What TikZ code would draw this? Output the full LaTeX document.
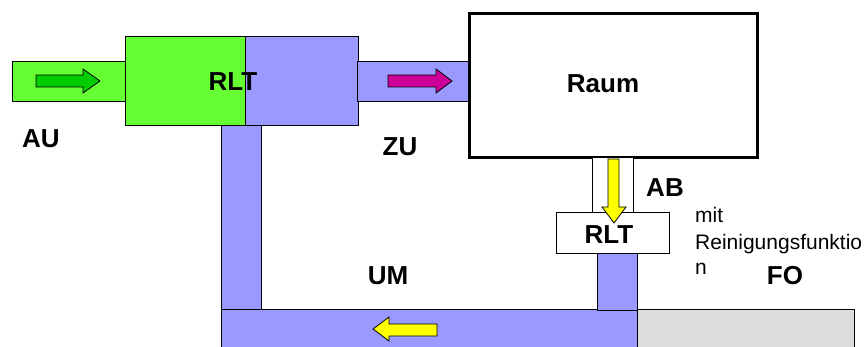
\documentclass[tikz,border=0pt]{standalone}
\usepackage{fontspec}
\setmainfont{Liberation Sans}
\usetikzlibrary{fit}
\definecolor{lgreen}{HTML}{66FF33}
\definecolor{lpurple}{HTML}{9999FF}
\definecolor{dgreen}{HTML}{00CC00}
\definecolor{magentaA}{HTML}{CC0099}
\definecolor{yel}{HTML}{FFFF00}
\definecolor{lgray}{HTML}{DDDDDD}
\tikzset{
 box/.style={draw=black, line width=1pt, inner sep=0pt, outer sep=0pt},
 lbl/.style={font=\fontsize{26}{30}\selectfont\bfseries, inner sep=0pt},
 note/.style={font=\fontsize{21}{25}\selectfont, inner sep=0pt, anchor=base west},
 barrow/.style={draw=black, line width=0.8pt, line join=miter},
}
\begin{document}
\begin{tikzpicture}[x=1pt,y=-1pt]
\useasboundingbox (0,0) rectangle (867,347);
\clip (0,0) rectangle (867,347);
\fill[white] (0,0) rectangle (867,347);
% ducts and units
\node[box, fill=lgreen, fit={(12,62)(125,102)}] (au) {};
\node[box, fill=lgreen, fit={(125,37)(245,126)}] (rltL) {};
\node[box, fill=lpurple, fit={(245,37)(358,126)}] (rltR) {};
\node[box, fill=lpurple, fit={(357,62)(469,102)}] (zu) {};
\node[box, line width=3pt, fill=white, fit={(469,14)(757,158)}] (raum) {};
\node[box, fill=lpurple, fit={(221,126)(261,309)}] (umv) {};
\node[box, fill=lpurple, fit={(221,309)(637,352)}] (umh) {};
\node[box, fill=lgray, fit={(637,309)(854,352)}] (fo) {};
\node[box, fill=white, fit={(556,213)(669,254)}] (rlt2) {};
\node[box, fill=white, fit={(592,158)(633,213)}] (ab) {};
\node[box, fill=lpurple, fit={(597,254)(637,310)}] (stub) {};
% arrows
\draw[barrow, fill=dgreen] (36,75) -- (83,75) -- (83,69) -- (100,81) -- (83,93) -- (83,87) -- (36,87) -- cycle;
\draw[barrow, fill=magentaA] (388,75) -- (436,75) -- (436,69) -- (452,81) -- (436,93) -- (436,87) -- (388,87) -- cycle;
\draw[barrow, fill=yel] (608,159) -- (619,159) -- (619,207) -- (626,207) -- (614,223) -- (602,207) -- (608,207) -- cycle;
\draw[barrow, fill=yel] (437,324) -- (389,324) -- (389,317) -- (373,329) -- (389,341) -- (389,336) -- (437,336) -- cycle;
% labels
\node[lbl] (tRLT) at (233,82) {RLT};
\node[lbl] (tRaum) at (603,84) {Raum};
\node[lbl] (tAU) at (41,139) {AU};
\node[lbl] (tZU) at (400,147) {ZU};
\node[lbl] (tAB) at (665,188) {AB};
\node[lbl] (tRLT2) at (609,235) {RLT};
\node[lbl] (tFO) at (785,276) {FO};
\node[lbl] (tUM) at (388,276) {UM};
\node[note] (n1) at (695,222.5) {mit};
\node[note] (n2) at (695,249.5) {Reinigungsfunktio};
\node[note] (n3) at (695,274.5) {n};
\end{tikzpicture}
\end{document}
